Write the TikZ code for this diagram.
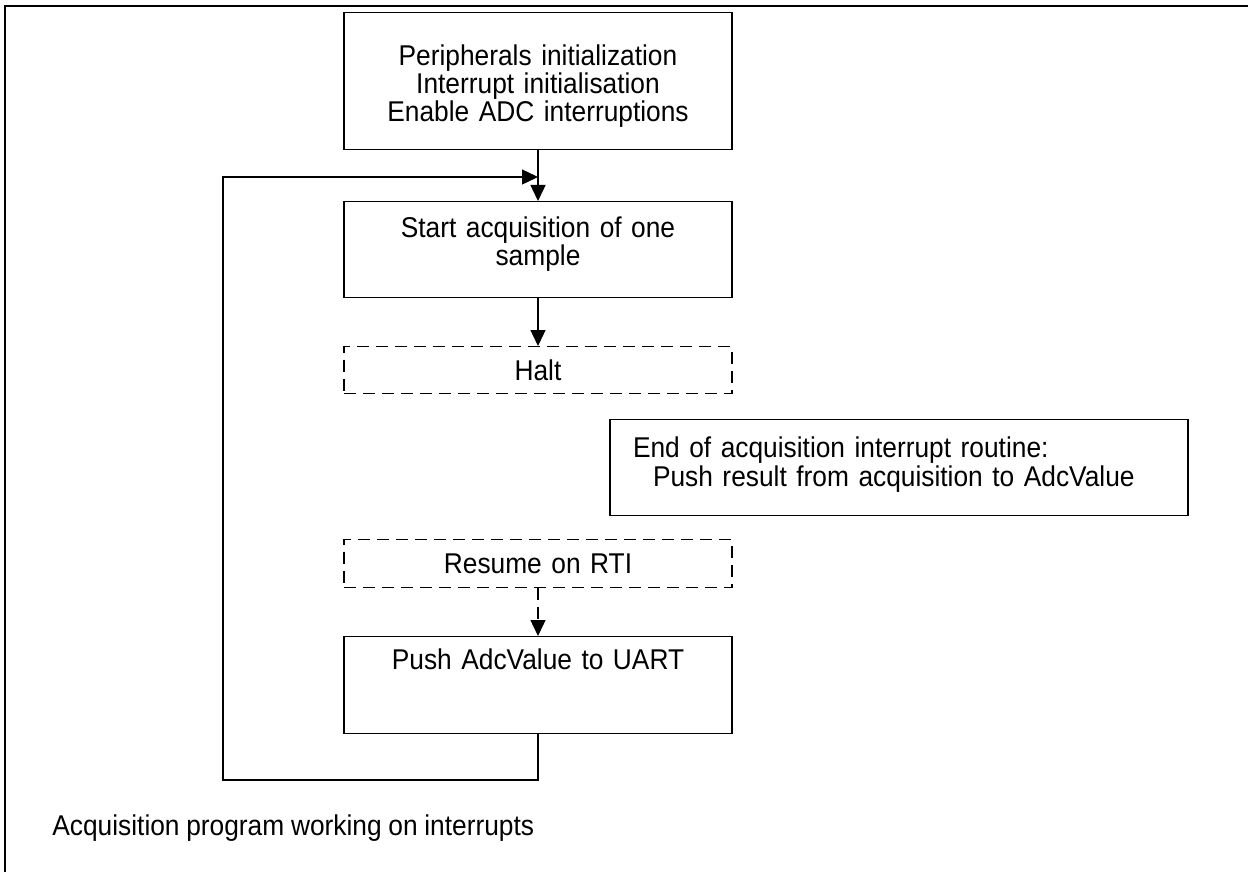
\documentclass[tikz,border=0pt]{standalone}
\usepackage{fontspec}
\setmainfont[FakeStretch=0.92, WordSpace=0.92]{Liberation Sans}
\usetikzlibrary{arrows.meta}
\tikzset{
	stage/.style={draw, line width=0.7pt, anchor=north, inner xsep=0pt, inner ysep=0pt, text width=194pt, align=center, font=\fontsize{14.3}{14}\selectfont},
	waitstage/.style={stage, dash pattern=on 6pt off 3.5pt},
	flow/.style={line width=0.7pt, -{Triangle[length=8pt,width=7.5pt]}},
}

\begin{document}
\begin{tikzpicture}[x=0.5pt,y=-0.5pt]
		\useasboundingbox (0,0) rectangle (1248,872);
		\draw[line width=1.1pt] (5,872) to (5,6) to (1248,6);
		
		% main loop
		\node[stage, text height=26.5pt, text depth=42pt] (init) at (538,12) {Peripherals initialization\\Interrupt initialisation\\Enable ADC interruptions};
		\node[stage, text height=18pt, text depth=30pt] (start) at (538,201) {Start acquisition of one\\sample};
		\node[waitstage, text height=17pt, text depth=6.5pt] (halt) at (538,346) {Halt};
		\node[waitstage, text height=17pt, text depth=7pt] (resume) at (538,539) {Resume on RTI};
		\node[stage, text height=16.5pt, text depth=32pt] (push) at (538,636) {Push AdcValue to UART};
		
		% interrupt routine
		\node[stage, text width=266pt, inner xsep=11.5pt, align=left, text height=19pt, text depth=29pt, font=\fontsize{14.3}{12.5}\selectfont] (isr) at (899,419) {End of acquisition interrupt routine:\\\hspace*{10pt}Push result from acquisition to AdcValue};
		
		\foreach \a/\b in {init/start,start/halt}
		{
		\draw[flow] (\a.south) to (\b.north);
		}
		\draw[flow, dash pattern=on 6pt off 3.5pt] (resume.south) to (push.north);
		
		\coordinate (loopdown) at (538,780);
		\coordinate (loopleft) at (223,780);
		\coordinate (loopup) at (223,177);
		\coordinate (merge) at (538,177);
		\draw[flow] (push.south) to (loopdown) to (loopleft) to (loopup) to (merge);
		
		\node[anchor=base west, inner sep=0pt, font=\fontsize{14.3}{14}\selectfont] (caption) at (52,835) {Acquisition program working on interrupts};
	\end{tikzpicture}
\end{document}
